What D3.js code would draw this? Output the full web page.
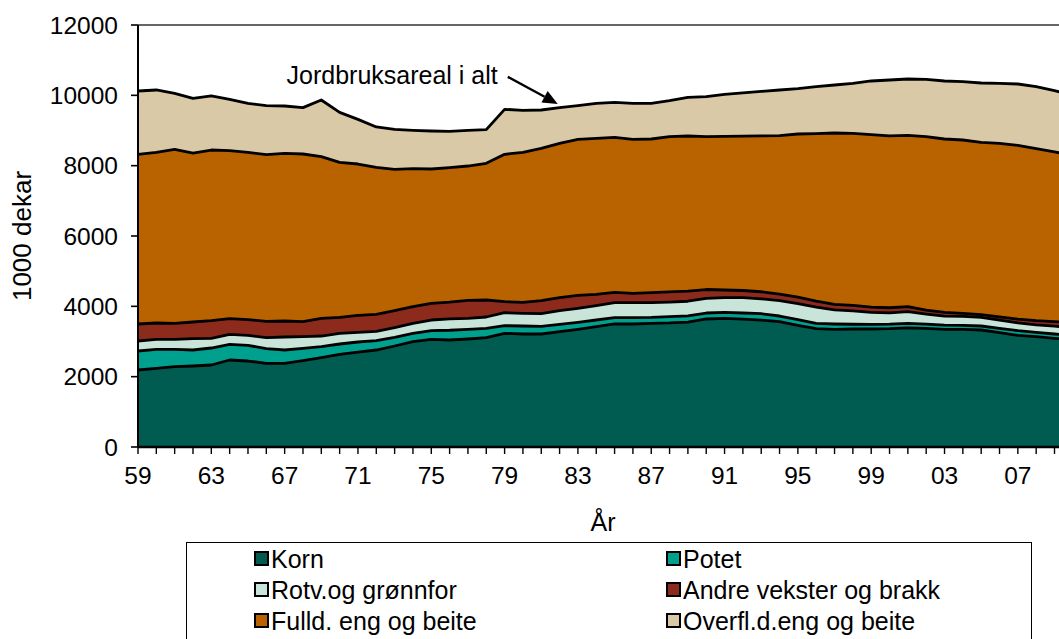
<!DOCTYPE html>
<html><head><meta charset="utf-8">
<script src="https://cdn.jsdelivr.net/npm/d3@7/dist/d3.min.js"></script>
<style>
body{margin:0;background:#fff}
svg{display:block}
text{font-family:Arial,"Liberation Sans",sans-serif;fill:#000}
</style>
</head><body>
<svg id="chart" width="1059" height="639"></svg>
<script>
// ---------------- DATA (1000 dekar) ----------------
const years = [1959,1960,1961,1962,1963,1964,1965,1966,1967,1968,1969,1970,1971,1972,1973,1974,1975,1976,1977,1978,1979,1980,1981,1982,1983,1984,1985,1986,1987,1988,1989,1990,1991,1992,1993,1994,1995,1996,1997,1998,1999,2000,2001,2002,2003,2004,2005,2006,2007,2008,2009,2010];
const korn   = [2190,2237,2285,2303,2332,2474,2445,2379,2379,2455,2540,2635,2701,2758,2872,2995,3062,3043,3071,3109,3232,3213,3213,3280,3346,3422,3498,3498,3517,3527,3550,3640,3660,3635,3610,3564,3460,3365,3346,3355,3355,3365,3390,3374,3346,3346,3327,3251,3176,3138,3090,3050];
const potet  = [540,540,492,455,483,445,446,417,379,351,313,294,285,266,247,237,246,277,275,265,218,228,218,208,199,189,180,180,171,183,180,170,170,175,180,161,165,152,152,135,133,130,127,121,119,114,114,123,132,123,123,120];
const rotv   = [284,285,285,323,275,285,285,313,370,332,303,303,275,266,275,285,303,325,313,323,370,360,361,388,398,408,426,426,416,410,415,418,420,435,425,440,455,463,402,380,342,320,333,285,255,255,247,237,222,209,222,230];
const andre  = [484,464,455,474,502,445,445,465,455,426,503,456,483,483,482,473,474,473,512,483,313,313,369,370,370,322,294,266,285,290,290,250,215,205,200,180,182,170,155,160,145,145,140,110,110,86,75,89,105,122,130,140];
const fulld  = [4825,4854,4948,4805,4853,4778,4759,4739,4768,4768,4597,4407,4303,4179,4019,3924,3820,3827,3819,3886,4190,4266,4333,4390,4437,4437,4409,4380,4369,4414,4409,4346,4370,4390,4430,4509,4639,4760,4874,4890,4907,4890,4874,4934,4928,4929,4901,4936,4944,4892,4824,4760];
const overfl = [1800,1772,1592,1555,1537,1459,1393,1393,1346,1318,1611,1421,1270,1148,1139,1091,1081,1030,1015,958,1279,1194,1089,1014,956,995,994,1023,1015,1024,1099,1138,1194,1230,1265,1298,1288,1336,1365,1422,1526,1586,1600,1631,1650,1659,1687,1706,1743,1762,1744,1700];

const seriesNames = ["Korn","Potet","Rotv.og grønnfor","Andre vekster og brakk","Fulld. eng og beite","Overfl.d.eng og beite"];
const seriesColors = ["#005C50","#00A08F","#C9E4D9","#8C2A1C","#B86200","#D9C9A6"];
const yTickValues = [0,2000,4000,6000,8000,10000,12000];
const xLabelYears = [1959,1963,1967,1971,1975,1979,1983,1987,1991,1995,1999,2003,2007];
const xTickLabels = ["59","63","67","71","75","79","83","87","91","95","99","03","07"];
const annotationText = "Jordbruksareal i alt";
const annotationYear = 1981.9;
const yTitle = "1000 dekar";
const xTitle = "År";

// ---------------- BUILD ----------------
const seriesArrays = [korn,potet,rotv,andre,fulld,overfl];
const keys = seriesNames;
const rows = years.map((yr,i)=>{
  const r = {year:yr};
  keys.forEach((k,j)=>{ r[k] = seriesArrays[j][i]; });
  return r;
});

const svg = d3.select("#chart");
const W = 1059, H = 639;
const plotLeft = 138, plotTop = 25, plotBottom = 447;
const yearStep = 18.33;

const x = d3.scaleLinear().domain([1959, 2009]).range([plotLeft, plotLeft + 50*yearStep]);
const y = d3.scaleLinear().domain([0, 12000]).range([plotBottom, plotTop]);

const layers = d3.stack().keys(keys)(rows);

svg.append("defs").append("clipPath").attr("id","plotclip")
  .append("rect").attr("x",plotLeft).attr("y",0).attr("width",W-plotLeft).attr("height",plotBottom);

const g = svg.append("g").attr("clip-path","url(#plotclip)");

const area = d3.area().x(d=>x(d.data.year)).y0(d=>y(d[0])).y1(d=>y(d[1]));
const topLine = d3.line().x(d=>x(d.data.year)).y(d=>y(d[1]));

g.selectAll("path.area").data(layers).join("path")
  .attr("class","area").attr("d",area).attr("fill",(d,i)=>seriesColors[i]);

g.selectAll("path.edge").data(layers).join("path")
  .attr("class","edge").attr("d",topLine)
  .attr("fill","none").attr("stroke","#000").attr("stroke-width",2.8)
  .attr("stroke-linejoin","round");

// top border of plot area
svg.append("line").attr("x1",plotLeft).attr("x2",W).attr("y1",y(12000)).attr("y2",y(12000))
  .attr("stroke","#3a3030").attr("stroke-width",1.6);

// Y axis
const yAxis = svg.append("g");
yAxis.append("line").attr("x1",plotLeft).attr("x2",plotLeft).attr("y1",y(12000)).attr("y2",y(0))
  .attr("stroke","#000").attr("stroke-width",2);
yAxis.selectAll("line.tk").data(yTickValues).join("line").attr("class","tk")
  .attr("x1",plotLeft-7).attr("x2",plotLeft).attr("y1",d=>y(d)).attr("y2",d=>y(d))
  .attr("stroke","#000").attr("stroke-width",1.6);
yAxis.selectAll("text").data(yTickValues).join("text")
  .attr("x",plotLeft-20).attr("y",d=>y(d)).attr("dy","0.36em")
  .attr("text-anchor","end").attr("font-size",24.5).text(d=>d);

// X axis
const xAxis = svg.append("g");
xAxis.append("line").attr("x1",plotLeft).attr("x2",W).attr("y1",plotBottom).attr("y2",plotBottom)
  .attr("stroke","#000").attr("stroke-width",2.4);
xAxis.selectAll("line.tk").data(years).join("line").attr("class","tk")
  .attr("x1",d=>x(d)).attr("x2",d=>x(d)).attr("y1",plotBottom).attr("y2",plotBottom+7)
  .attr("stroke","#000").attr("stroke-width",1.4);
xAxis.selectAll("text").data(xLabelYears).join("text")
  .attr("x",d=>x(d)).attr("y",484)
  .attr("text-anchor","middle").attr("font-size",24.5).text((d,i)=>xTickLabels[i]);

// Axis titles
svg.append("text").attr("transform","translate(31,236) rotate(-90)")
  .attr("text-anchor","middle").attr("font-size",26).text(yTitle);
svg.append("text").attr("x",603).attr("y",531)
  .attr("text-anchor","middle").attr("font-size",25).text(xTitle);

// Annotation with arrow
const totals = rows.map(r=>keys.reduce((s,k)=>s+r[k],0));
const totalAt = d3.scaleLinear().domain(years).range(totals);
const tipX = x(annotationYear), tipY = y(totalAt(annotationYear)) - 4;
const startX = tipX - 50, startY = tipY - 27;
const ang = Math.atan2(tipY-startY, tipX-startX);
const headLen = 15, headW = 6.5;
const bx = tipX - headLen*Math.cos(ang), by = tipY - headLen*Math.sin(ang);
svg.append("line").attr("x1",startX).attr("y1",startY).attr("x2",bx).attr("y2",by)
  .attr("stroke","#000").attr("stroke-width",2.4);
svg.append("polygon").attr("points",[
  [tipX,tipY],
  [bx + headW*Math.sin(ang), by - headW*Math.cos(ang)],
  [bx - headW*Math.sin(ang), by + headW*Math.cos(ang)]
].map(p=>p.join(",")).join(" ")).attr("fill","#000");
svg.append("text").attr("x",startX-10).attr("y",startY+7)
  .attr("text-anchor","end").attr("font-size",25).text(annotationText);

// Legend
const legend = svg.append("g");
legend.append("rect").attr("x",186.5).attr("y",542.5).attr("width",845).attr("height",130)
  .attr("fill","#fff").attr("stroke","#000").attr("stroke-width",1);
const colX = [255, 667], rowY = [568, 599, 630];
seriesNames.forEach((name,i)=>{
  const cx = colX[i%2], cy = rowY[Math.floor(i/2)];
  legend.append("rect").attr("x",cx).attr("y",cy-16).attr("width",13).attr("height",13)
    .attr("fill",seriesColors[i]).attr("stroke","#000").attr("stroke-width",2);
  legend.append("text").attr("x",cx+16).attr("y",cy).attr("font-size",25).text(name);
});
</script>
</body></html>
